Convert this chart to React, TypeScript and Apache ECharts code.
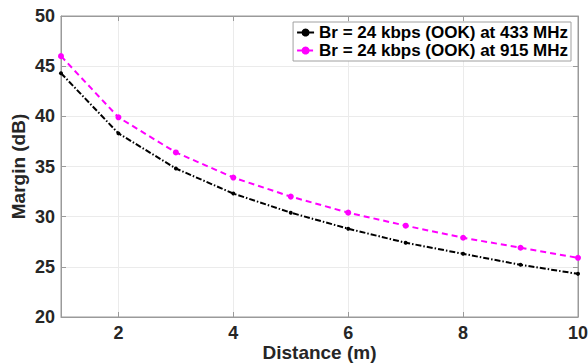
import React, { useEffect, useRef } from "react";
import * as echarts from "echarts";

const distances = [1, 2, 3, 4, 5, 6, 7, 8, 9, 10];
const margin433 = [44.3, 38.3, 34.8, 32.3, 30.4, 28.8, 27.4, 26.3, 25.2, 24.3];
const margin915 = [46.0, 39.9, 36.4, 33.9, 32.0, 30.4, 29.1, 27.9, 26.9, 25.9];
const seriesNames = ["Br = 24 kbps (OOK) at 433 MHz", "Br = 24 kbps (OOK) at 915 MHz"];

const FONT = "'Liberation Sans', Arial, Helvetica, sans-serif";
const AXIS_COLOR = "#9a9a9a";
const TEXT_COLOR = "#262626";

export default function App() {
  const ref = useRef<HTMLDivElement>(null);
  useEffect(() => {
    if (!ref.current) return;
    const chart = echarts.init(ref.current, undefined, { renderer: "svg" });
    const common = {
      axisLine: { show: true, lineStyle: { color: AXIS_COLOR, width: 1 } },
      axisTick: { show: true, inside: true, length: 5, lineStyle: { color: AXIS_COLOR } },
    };
    chart.setOption({
      animation: false,
      backgroundColor: "#ffffff",
      textStyle: { fontFamily: FONT },
      grid: {
        left: 61,
        right: 10,
        top: 16,
        bottom: 47,
        containLabel: false,
        outerBoundsMode: "none",
        show: true,
        borderColor: AXIS_COLOR,
        borderWidth: 1,
        backgroundColor: "#ffffff",
      },
      legend: {
        orient: "vertical",
        right: 17,
        top: 22,
        padding: [2, 3, 2, 3],
        itemGap: 1,
        itemWidth: 17,
        itemHeight: 10,
        backgroundColor: "#ffffff",
        borderColor: "#a0a0a0",
        borderWidth: 1,
        borderRadius: 0,
        textStyle: {
          fontFamily: FONT,
          fontWeight: "bold",
          fontSize: 17,
          lineHeight: 16,
          color: "#000000",
        },
        data: seriesNames,
      },
      xAxis: [
        {
          type: "value",
          min: 1,
          max: 10,
          splitNumber: 5,
          name: "Distance (m)",
          nameLocation: "middle",
          nameGap: 25,
          nameMoveOverlap: false,
          nameTextStyle: {
            fontFamily: FONT,
            fontWeight: "bold",
            fontSize: 19,
            lineHeight: 20,
            color: TEXT_COLOR,
            verticalAlign: "top",
          },
          ...common,
          axisLabel: {
            showMinLabel: false,
            margin: 7,
            fontFamily: FONT,
            fontWeight: "bold",
            fontSize: 18,
            lineHeight: 18,
            color: TEXT_COLOR,
          },
          splitLine: { show: true, lineStyle: { color: "#ebebeb", width: 1 } },
        },
        {
          type: "value",
          position: "top",
          min: 1,
          max: 10,
          splitNumber: 5,
          ...common,
          axisLabel: { show: false },
          splitLine: { show: false },
        },
      ],
      yAxis: [
        {
          type: "value",
          min: 20,
          max: 50,
          interval: 5,
          name: "Margin (dB)",
          nameLocation: "middle",
          nameGap: 33,
          nameMoveOverlap: false,
          nameTextStyle: {
            fontFamily: FONT,
            fontWeight: "bold",
            fontSize: 19,
            color: TEXT_COLOR,
          },
          ...common,
          axisLabel: {
            margin: 6,
            fontFamily: FONT,
            fontWeight: "bold",
            fontSize: 18,
            color: TEXT_COLOR,
          },
          splitLine: { show: true, lineStyle: { color: "#ebebeb", width: 1 } },
        },
        {
          type: "value",
          position: "right",
          min: 20,
          max: 50,
          interval: 5,
          ...common,
          axisLabel: { show: false },
          splitLine: { show: false },
        },
      ],
      series: [
        {
          name: seriesNames[0],
          type: "line",
          data: distances.map((d, i) => [d, margin433[i]]),
          color: "#000000",
          symbol: "circle",
          symbolSize: 4,
          showSymbol: true,
          lineStyle: { color: "#000000", width: 2, type: [6, 2, 1.5, 2] },
          itemStyle: { color: "#000000" },
          z: 3,
        },
        {
          name: seriesNames[1],
          type: "line",
          data: distances.map((d, i) => [d, margin915[i]]),
          color: "#ff00ff",
          symbol: "circle",
          symbolSize: 6,
          showSymbol: true,
          lineStyle: { color: "#ff00ff", width: 2, type: [6, 4] },
          itemStyle: { color: "#ff00ff" },
          z: 2,
        },
      ],
    });
    return () => chart.dispose();
  }, []);
  return <div ref={ref} style={{ width: 588, height: 364, position: "absolute", left: 0, top: 0 }} />;
}
